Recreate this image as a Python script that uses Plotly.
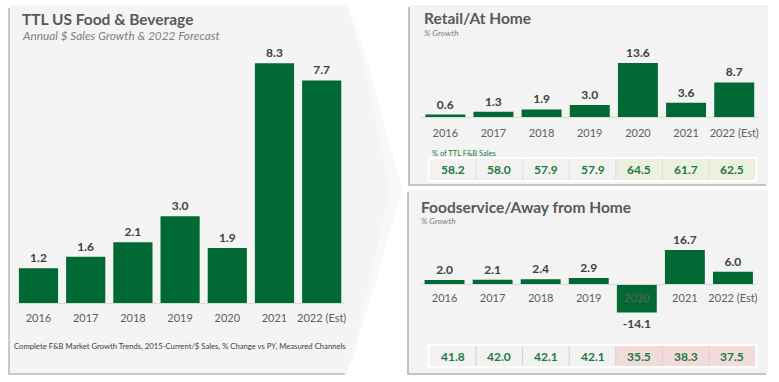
import plotly.graph_objects as go

# ---------------- data ----------------
years = ["2016", "2017", "2018", "2019", "2020", "2021", "2022 (Est)"]
total_growth = [1.2, 1.6, 2.1, 3.0, 1.9, 8.3, 7.7]
retail_growth = [0.6, 1.3, 1.9, 3.0, 13.6, 3.6, 8.7]
food_growth = [2.0, 2.1, 2.4, 2.9, -14.1, 16.7, 6.0]
retail_share = [58.2, 58.0, 57.9, 57.9, 64.5, 61.7, 62.5]
food_share = [41.8, 42.0, 42.1, 42.1, 35.5, 38.3, 37.5]

title_main = "TTL US Food & Beverage"
subtitle_main = "Annual $ Sales Growth & 2022 Forecast"
footnote_main = "Complete F&B Market Growth Trends, 2015-Current/$ Sales, % Change vs PY, Measured Channels"
title_retail = "Retail/At Home"
title_food = "Foodservice/Away from Home"
subtitle_small = "% Growth"
share_label = "% of TTL F&B Sales"

# ---------------- style ----------------
W, H = 779, 382
FONT = "Lato, Carlito, Calibri, sans-serif"
GREEN = "#006934"
TXT_GREEN = "#1d7a3e"
TITLE_C = "#595959"
SUB_C = "#808080"
LABEL_C = "#404040"
PANEL = "#f3f3f3"
SHADOW = "#c4c4c4"


def px(x):
    return x / W


def py(y):
    return 1 - y / H


fig = go.Figure()

# ---------- axis geometry (pixel layout) ----------
def ydomain(base_px, scale, lo, hi):
    bottom = base_px + (0 - lo) * scale
    top = base_px - hi * scale
    return [py(bottom), py(top)]

# left chart
L_X = [14.9, 345.3]
L_RANGE = [0, 9.5]
L_DOM = ydomain(303, 28.9, *L_RANGE)
# retail chart
R_X = [421.2, 758.3]
R_RANGE = [0, 15]
R_DOM = ydomain(117, 3.97, *R_RANGE)
# foodservice chart
F_X = [420.5, 757.0]
F_RANGE = [-15, 18]
F_DOM = ydomain(284, 2.03, *F_RANGE)

bar_text = dict(family=FONT, size=12, color=LABEL_C, weight="bold")

for vals, xa, ya in [(total_growth, "x", "y"), (retail_growth, "x2", "y2"), (food_growth, "x3", "y3")]:
    fig.add_trace(go.Bar(
        x=years, y=vals, xaxis=xa, yaxis=ya,
        marker=dict(color=GREEN, line=dict(width=0)),
        width=0.83,
        texttemplate="%{y:.1f}", textposition="outside",
        textfont=bar_text, cliponaxis=False, hoverinfo="skip",
        showlegend=False,
    ))

tick_font = dict(family=FONT, size=11, color="#606060")
xcommon = dict(type="category", showgrid=False, zeroline=False, showline=True,
               linecolor="#d9d9d9", linewidth=1, ticks="", tickfont=tick_font,
               fixedrange=True)
ycommon = dict(visible=False, showgrid=False, zeroline=False, fixedrange=True)

fig.update_layout(
    xaxis=dict(domain=[px(L_X[0]), px(L_X[1])], anchor="y", ticklabelstandoff=5, **xcommon),
    yaxis=dict(domain=L_DOM, range=L_RANGE, anchor="x", **ycommon),
    xaxis2=dict(domain=[px(R_X[0]), px(R_X[1])], anchor="y2", ticklabelstandoff=6, **xcommon),
    yaxis2=dict(domain=R_DOM, range=R_RANGE, anchor="x2", **ycommon),
    xaxis3=dict(domain=[px(F_X[0]), px(F_X[1])], anchor="free", position=py(284),
                ticklabelstandoff=4, **xcommon),
    yaxis3=dict(domain=F_DOM, range=F_RANGE, anchor="x3", **ycommon),
)

# ---------- panels & shadows ----------
shapes = []


def rect(x0, y0, x1, y1, fill, line=None, lw=0):
    shapes.append(dict(type="rect", xref="paper", yref="paper", layer="below",
                       x0=px(x0), x1=px(x1), y0=py(y1), y1=py(y0),
                       fillcolor=fill, line=dict(width=lw, color=line or fill)))


def poly(points, fill):
    d = "M " + " L ".join(f"{px(a):.5f},{py(b):.5f}" for a, b in points) + " Z"
    shapes.append(dict(type="path", xref="paper", yref="paper", layer="below",
                       path=d, fillcolor=fill, line=dict(width=0)))


# left panel with zoom wedge
poly([(8, 8), (345, 8), (345, 375), (8, 375)], "#c8c8c8")
poly([(345, 300), (400, 192), (346, 375)], "#ebebeb")
poly([(10, 5), (348, 5), (402, 190), (347, 373), (10, 373)], "#f4f4f4")
poly([(352, 5), (402, 190), (349, 372), (390, 190)], "#f8f8f8")

# right panels
rect(408, 7, 766, 186, SHADOW)
rect(410, 5, 768, 184, PANEL)
rect(407, 192, 766, 375, SHADOW)
rect(409, 190, 768, 373, PANEL)

# ---------- share tables ----------
annotations = []


def table(values, y0, y1, hi_fill, sep_color):
    x0, x1 = 429.5, 755.5
    rect(x0 - 2, y0 - 2, x1 + 2, y1 + 2, "#ffffff")
    n = len(values)
    cw = (x1 - x0) / n
    for i, v in enumerate(values):
        fill = hi_fill if i >= 4 else "#f2f2f2"
        rect(x0 + i * cw, y0, x0 + (i + 1) * cw, y1, fill)
        if i > 0:
            shapes.append(dict(type="line", xref="paper", yref="paper", layer="below",
                               x0=px(x0 + i * cw), x1=px(x0 + i * cw), y0=py(y1), y1=py(y0),
                               line=dict(color=sep_color, width=1)))
        annotations.append(dict(
            xref="paper", yref="paper", x=px(x0 + (i + 0.5) * cw), y=py((y0 + y1) / 2),
            text=f"{v:.1f}", showarrow=False, xanchor="center", yanchor="middle",
            font=dict(family=FONT, size=12, color=TXT_GREEN, weight="bold")))


table(retail_share, 159, 180, "#ebf1de", "#dcdcdc")
table(food_share, 346, 366, "#f2dcdb", "#dccaca")


def text(x, y, s, size, color, bold=False, italic=False):
    annotations.append(dict(
        xref="paper", yref="paper", x=px(x), y=py(y), text=s, showarrow=False,
        xanchor="left", yanchor="middle",
        font=dict(family=FONT, size=size, color=color,
                  weight="bold" if bold else "normal",
                  style="italic" if italic else "normal")))


text(20, 19, title_main, 15.5, TITLE_C, bold=True)
text(20, 36, subtitle_main, 11.8, SUB_C, italic=True)
text(12, 346, footnote_main, 7.7, LABEL_C)

text(422, 18, title_retail, 15.5, TITLE_C, bold=True)
text(422, 33, subtitle_small, 8.5, SUB_C, italic=True)
text(430, 153, share_label, 7.5, TXT_GREEN)

text(419, 206.5, title_food, 15.5, TITLE_C, bold=True)
text(419, 221.5, subtitle_small, 8.5, SUB_C, italic=True)

fig.update_layout(
    width=W, height=H, margin=dict(l=0, r=0, t=0, b=0),
    paper_bgcolor="#ffffff", plot_bgcolor="rgba(0,0,0,0)",
    shapes=shapes, annotations=annotations, showlegend=False,
    font=dict(family=FONT),
)

fig.write_html(
    "out.html",
    config={"displayModeBar": False},
    post_script="document.body.style.margin='0';document.body.style.overflow='hidden';",
)
